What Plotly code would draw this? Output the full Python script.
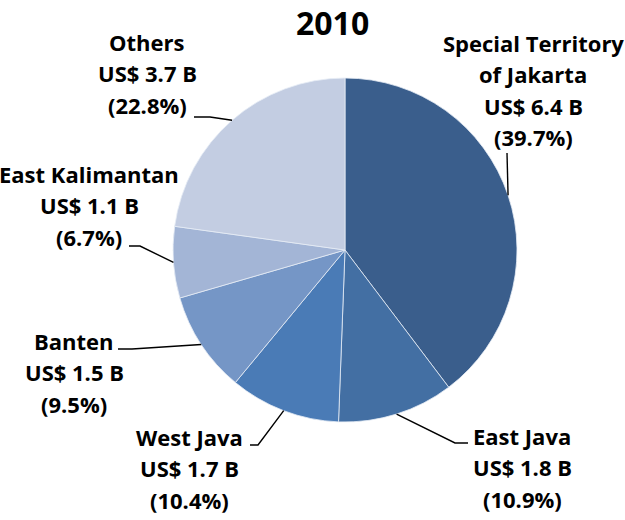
import math
import plotly.graph_objects as go

# ---- data ----
regions = ["Special Territory<br>of Jakarta", "East Java", "West Java",
           "Banten", "East Kalimantan", "Others"]
usd_billion = [6.4, 1.8, 1.7, 1.5, 1.1, 3.7]
share_pct = [39.7, 10.9, 10.4, 9.5, 6.7, 22.8]
colors = ["#3A5E8C", "#436FA3", "#4A7BB6", "#7596C6", "#A3B5D6", "#C3CDE2"]
title_text = "2010"

# ---- layout constants (pixels) ----
W, H = 625, 520
CX, CY, R = 345, 250, 172
FONT = "'Open Sans', Lato, sans-serif"
FS = 22
LINE_GAP = 31.5
# per label: text centre x, first baseline y, leader start, leader elbow
label_pos = [
    (533, 51, (507, 153), (507, 153)),
    (522, 444, (468, 443), (455, 443)),
    (189, 445, (250, 445), (258, 445)),
    (74, 349, (118, 349), (132, 349)),
    (89, 182, (129, 246), (140, 246)),
    (147, 50, (194, 117), (210, 117)),
]


def px(x):
    return x / W


def py(y):
    return 1 - y / H


fig = go.Figure()
fig.add_trace(go.Pie(
    labels=[r.replace("<br>", " ") for r in regions],
    values=share_pct,
    sort=False,
    direction="clockwise",
    rotation=0,
    textinfo="none",
    marker=dict(colors=colors, line=dict(color="#E6ECF5", width=0.8)),
    domain=dict(x=[px(CX - R), px(CX + R)], y=[py(CY + R), py(CY - R)]),
    showlegend=False,
))

annotations = []
shapes = []
total = sum(share_pct)
cum = 0.0
for i, (name, usd, pct) in enumerate(zip(regions, usd_billion, share_pct)):
    mid = (cum + pct / 2) / total
    cum += pct
    ang = 2 * math.pi * mid
    ax = CX + R * math.sin(ang)
    ay = CY - R * math.cos(ang)
    tx, ty, start, elbow = label_pos[i]
    lines = name.split("<br>") + [f"US$ {usd:.1f} B", f"({pct:.1f}%)"]
    for k, line in enumerate(lines):
        base = ty + k * LINE_GAP
        annotations.append(dict(
            x=px(tx), y=py(base - 0.37 * FS), xref="paper", yref="paper",
            text=f"<b>{line}</b>", showarrow=False,
            xanchor="center", yanchor="middle", borderpad=0,
            font=dict(family=FONT, size=FS, color="#000000"),
        ))
    path = (f"M {px(start[0])},{py(start[1])} L {px(elbow[0])},{py(elbow[1])} "
            f"L {px(ax)},{py(ay)}")
    shapes.append(dict(type="path", path=path, xref="paper", yref="paper",
                       line=dict(color="#000000", width=1.4), layer="above"))

annotations.append(dict(
    x=px(332), y=1.0, xref="paper", yref="paper",
    text=f"<b>{title_text}</b>", showarrow=False,
    xanchor="center", yanchor="top", borderpad=0,
    font=dict(family=FONT, size=32, color="#000000"),
))

fig.update_layout(
    width=W, height=H,
    margin=dict(l=0, r=0, t=0, b=0),
    paper_bgcolor="#FFFFFF",
    plot_bgcolor="#FFFFFF",
    annotations=annotations,
    shapes=shapes,
)

fig.write_html(
    "out.html",
    config={"displayModeBar": False},
    post_script="document.body.style.margin='0';document.body.style.padding='0';",
)
